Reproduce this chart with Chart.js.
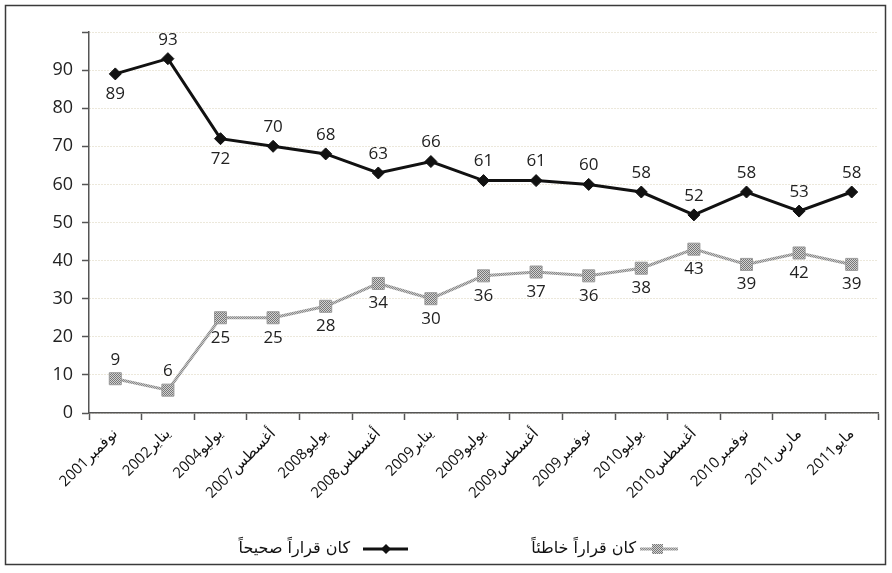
<!DOCTYPE html>
<html lang="ar">
<head>
<meta charset="utf-8">
<title>كان قراراً صحيحاً / خاطئاً</title>
<script src="https://cdn.jsdelivr.net/npm/chart.js@4.4.1/dist/chart.umd.min.js"></script>
<style>
  html, body { margin: 0; padding: 0; background: #fff; }
  #wrap { position: relative; width: 892px; height: 573px; }
</style>
</head>
<body>
<div id="wrap"><canvas id="chart"></canvas></div>
<script>
// --- datos ---
const months = ['نوفمبر', 'يناير', 'يوليو', 'أغسطس', 'يوليو', 'أغسطس', 'يناير', 'يوليو',
                'أغسطس', 'نوفمبر', 'يوليو', 'أغسطس', 'نوفمبر', 'مارس', 'مايو'];
const years = ['2001', '2002', '2004', '2007', '2008', '2008', '2009', '2009',
               '2009', '2009', '2010', '2010', '2010', '2011', '2011'];
const correctDecision = [89, 93, 72, 70, 68, 63, 66, 61, 61, 60, 58, 52, 58, 53, 58];
const wrongDecision = [9, 6, 25, 25, 28, 34, 30, 36, 37, 36, 38, 43, 39, 42, 39];
const correctName = 'كان قراراً صحيحاً';
const wrongName = 'كان قراراً خاطئاً';

// lado de cada etiqueta de valor (1 = arriba, -1 = abajo)
const correctSide = [-1, 1, -1, 1, 1, 1, 1, 1, 1, 1, 1, 1, 1, 1, 1];
const wrongSide = [1, 1, -1, -1, -1, -1, -1, -1, -1, -1, -1, -1, -1, -1, -1];

const labels = years.map((y, i) => y + months[i]);

const NUM_FONT = '"Open Sans", "DejaVu Sans", sans-serif';
const AR_FONT = '"DejaVu Sans", sans-serif';

// textura gris punteada
function makePattern(a, b) {
  const c = document.createElement('canvas');
  c.width = 2; c.height = 2;
  const g = c.getContext('2d');
  g.fillStyle = a; g.fillRect(0, 0, 2, 2);
  g.fillStyle = b; g.fillRect(0, 0, 1, 1); g.fillRect(1, 1, 1, 1);
  return g.createPattern(c, 'repeat');
}
const greyFill = makePattern('#d2d2d2', '#777777');
const greyLine = makePattern('#c8c8c8', '#8a8a8a');

// etiquetas de valores
const valueLabels = {
  id: 'valueLabels',
  afterDatasetsDraw(chart) {
    const ctx = chart.ctx;
    ctx.save();
    ctx.font = '17px ' + NUM_FONT;
    ctx.fillStyle = '#222';
    ctx.textAlign = 'center';
    ctx.textBaseline = 'middle';
    chart.data.datasets.forEach((ds, i) => {
      const meta = chart.getDatasetMeta(i);
      meta.data.forEach((pt, j) => {
        const off = ds.labelSide[j] > 0 ? -19 : 20;
        ctx.fillText(String(ds.data[j]), pt.x, pt.y + off);
      });
    });
    ctx.restore();
  }
};

// leyenda (estilo RTL, marcador a la derecha del texto) y marco
const frameAndLegend = {
  id: 'frameAndLegend',
  beforeDraw(chart) {
    const ctx = chart.ctx;
    ctx.save();
    ctx.fillStyle = '#fff';
    ctx.fillRect(0, 0, chart.width, chart.height);
    ctx.restore();
  },
  afterDraw(chart) {
    const ctx = chart.ctx;
    ctx.save();
    ctx.strokeStyle = '#3a3a3a';
    ctx.lineWidth = 1.5;
    ctx.strokeRect(5.5, 5.5, 880, 559);

    const y = 549;
    ctx.font = '16px ' + AR_FONT;
    ctx.fillStyle = '#111';
    ctx.textAlign = 'right';
    ctx.textBaseline = 'middle';
    ctx.fillText(correctName, 350, y);
    ctx.fillText(wrongName, 636, y);

    // marcador negro
    ctx.strokeStyle = '#111';
    ctx.lineWidth = 3;
    ctx.beginPath(); ctx.moveTo(363, y); ctx.lineTo(408, y); ctx.stroke();
    ctx.fillStyle = '#111';
    ctx.beginPath();
    ctx.moveTo(386, y - 5); ctx.lineTo(391, y); ctx.lineTo(386, y + 5); ctx.lineTo(381, y);
    ctx.closePath(); ctx.fill();

    // marcador gris
    ctx.strokeStyle = greyLine;
    ctx.lineWidth = 3;
    ctx.beginPath(); ctx.moveTo(640, y); ctx.lineTo(678, y); ctx.stroke();
    ctx.fillStyle = greyFill;
    ctx.fillRect(652, y - 5, 11, 10);
    ctx.restore();
  }
};

const ctx = document.getElementById('chart').getContext('2d');
new Chart(ctx, {
  type: 'line',
  data: {
    labels: labels,
    datasets: [{
      label: correctName,
      data: correctDecision,
      labelSide: correctSide,
      borderColor: '#111',
      borderWidth: 3,
      pointStyle: 'rectRot',
      pointRadius: 6,
      pointBackgroundColor: '#111',
      pointBorderColor: '#111',
      pointBorderWidth: 1,
      tension: 0
    }, {
      label: wrongName,
      data: wrongDecision,
      labelSide: wrongSide,
      borderColor: greyLine,
      borderWidth: 3,
      pointStyle: 'rect',
      pointRadius: 8.5,
      pointBackgroundColor: greyFill,
      pointBorderColor: '#9a9a9a',
      pointBorderWidth: 1,
      tension: 0
    }]
  },
  options: {
    responsive: true,
    maintainAspectRatio: false,
    animation: false,
    events: [],
    layout: { padding: { top: 32, left: 30, right: 14, bottom: 60 } },
    plugins: {
      legend: { display: false },
      tooltip: { enabled: false }
    },
    scales: {
      x: {
        offset: true,
        grid: { drawOnChartArea: false, offset: true, tickLength: 7, tickColor: '#555', tickWidth: 1.5 },
        border: { color: '#555', width: 1.5 },
        ticks: {
          color: '#111',
          font: { size: 15, family: NUM_FONT },
          maxRotation: 45,
          minRotation: 45,
          padding: 5,
          autoSkip: false
        },
        afterFit(scale) { scale.height = 100; }
      },
      y: {
        min: 0,
        max: 100,
        grid: { color: '#d8d0b6', tickColor: '#555', tickLength: 7, tickWidth: 1.5 },
        border: { color: '#555', width: 1.5, dash: [1, 2] },
        ticks: {
          stepSize: 10,
          color: '#222',
          padding: 9,
          font: { size: 18, family: NUM_FONT },
          callback: (v) => (v === 100 ? '' : v)
        },
        afterFit(scale) { scale.width = 59; }
      }
    }
  },
  plugins: [valueLabels, frameAndLegend]
});
</script>
</body>
</html>
